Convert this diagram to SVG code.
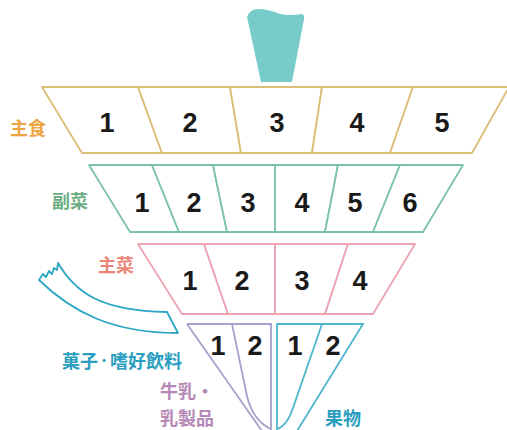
<svg xmlns="http://www.w3.org/2000/svg" width="507" height="430" viewBox="0 0 507 430">
  <style>
    .cell { fill: #ffffff; stroke-width: 1.8; stroke-linejoin: round; }
    .grain { stroke: #dcbd78; }
    .veg { stroke: #7cc3a6; }
    .meat { stroke: #eea3b2; }
    .milk { stroke: #a5a2cb; fill: none; stroke-width: 1.8; }
    .fruit { stroke: #4db6cd; fill: none; stroke-width: 1.8; }
    .num { font-family: "Liberation Sans", Arial, sans-serif; font-weight: bold; font-size: 27px; fill: #1a1a1a; text-anchor: middle; }
    .lbl { font-family: "Noto Sans CJK JP", "Noto Sans", sans-serif; font-weight: 700; font-size: 18px; }
    .dot { font-size: 12px; }
  </style>

  <rect width="507" height="430" fill="#ffffff"/>

  <!-- handle of the spinning top -->
  <g id="handle">
    <path d="M247 17 Q250 9 258 9 Q268 9 280 14 Q290 16 302 14 Q305 15 304 19 L292 82 L261 82 Z" fill="#77cbc9"/>
  </g>

  <!-- row 1: staple foods -->
  <g id="shushoku">
    <polygon class="cell grain" points="42,87 138,87 162,153 82,153"/>
    <polygon class="cell grain" points="138,87 230,87 241,153 162,153"/>
    <polygon class="cell grain" points="230,87 322,87 312,153 241,153"/>
    <polygon class="cell grain" points="322,87 413,87 390,153 312,153"/>
    <polygon class="cell grain" points="413,87 509,87 472,153 390,153"/>
    <text class="num" x="107" y="132">1</text>
    <text class="num" x="190" y="132">2</text>
    <text class="num" x="277" y="132">3</text>
    <text class="num" x="357" y="132">4</text>
    <text class="num" x="442" y="132">5</text>
    <text class="lbl" x="10" y="135" fill="#eda443">主食</text>
  </g>

  <!-- row 2: side dishes -->
  <g id="fukusai">
    <polygon class="cell veg" points="89,165 152,165 179,232 130,232"/>
    <polygon class="cell veg" points="152,165 213,165 227,232 179,232"/>
    <polygon class="cell veg" points="213,165 275,165 275,232 227,232"/>
    <polygon class="cell veg" points="275,165 338,165 325,232 275,232"/>
    <polygon class="cell veg" points="338,165 400,165 373,232 325,232"/>
    <polygon class="cell veg" points="400,165 463,165 423,232 373,232"/>
    <text class="num" x="142" y="212">1</text>
    <text class="num" x="194" y="212">2</text>
    <text class="num" x="248" y="212">3</text>
    <text class="num" x="302" y="212">4</text>
    <text class="num" x="355" y="212">5</text>
    <text class="num" x="410" y="212">6</text>
    <text class="lbl" x="52" y="208" fill="#6cae82">副菜</text>
  </g>

  <!-- row 3: main dishes -->
  <g id="shusai">
    <polygon class="cell meat" points="138,244 204,244 228,314 182,314"/>
    <polygon class="cell meat" points="204,244 275,244 275,314 228,314"/>
    <polygon class="cell meat" points="275,244 348,244 325,314 275,314"/>
    <polygon class="cell meat" points="348,244 415,244 373,314 325,314"/>
    <text class="num" x="190" y="290">1</text>
    <text class="num" x="242" y="290">2</text>
    <text class="num" x="302" y="290">3</text>
    <text class="num" x="360" y="290">4</text>
    <text class="lbl" x="98" y="272" fill="#ec8679">主菜</text>
  </g>

  <!-- row 4 left: milk and dairy -->
  <g id="milk">
    <path class="milk" d="M187 324 L271 324 L271 431 M187 324 L262 431 M232 324 L247 396 Q253 421 271 429"/>
    <text class="num" x="218" y="355">1</text>
    <text class="num" x="255" y="355">2</text>
    <text class="lbl" x="160" y="398" fill="#b589b6">牛乳・</text>
    <text class="lbl" x="160" y="425" fill="#b589b6">乳製品</text>
  </g>

  <!-- row 4 right: fruit -->
  <g id="fruit">
    <path class="fruit" d="M277 431 L277 324 L363 324 L297 431 M322 324 L293 408 Q288 424 278 429"/>
    <text class="num" x="295" y="355">1</text>
    <text class="num" x="333" y="355">2</text>
    <text class="lbl" x="325" y="425" fill="#2a9ec0">果物</text>
  </g>

  <!-- ribbon: snacks and beverages -->
  <g id="kashi">
    <path d="M58 263 C75 292 100 311 167 312 L178 333 C112 333 72 312 39 280 L43 274 L46 277 L49 271 L52 274 L54 268 L57 270 Z" fill="#ffffff" stroke="#2ba6c3" stroke-width="1.8" stroke-linejoin="round"/>
    <text class="lbl" x="62" y="368" fill="#2a9ec0">菓子<tspan class="dot" dy="-2">・</tspan><tspan dy="2">嗜好飲料</tspan></text>
  </g>
</svg>
